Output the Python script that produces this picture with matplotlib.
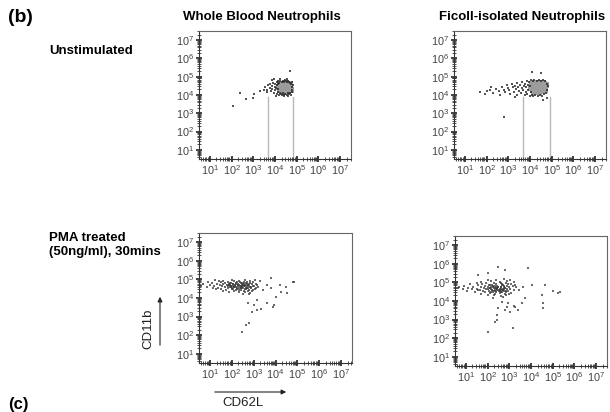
import numpy as np
import matplotlib
matplotlib.use("Agg")
import matplotlib.pyplot as plt
from matplotlib.ticker import FixedLocator, LogLocator, NullFormatter

plt.rcParams['font.family'] = ['Liberation Sans', 'DejaVu Sans']
plt.rcParams['mathtext.fontset'] = 'custom'
plt.rcParams['mathtext.rm'] = 'Liberation Sans'
plt.rcParams['mathtext.it'] = 'Liberation Sans'

# ---- data (log10 values) ----
decades = [1, 2, 3, 4, 5, 6, 7]
tick_labels = [r'$10^{%d}$' % d for d in decades]
col_titles = ['Whole Blood Neutrophils', 'Ficoll-isolated Neutrophils']
row_titles = ['Unstimulated', 'PMA treated\n(50ng/ml), 30mins']

# top-left: whole blood, unstimulated
tl_core_x = [4.20, 4.28, 4.30, 4.35, 4.38, 4.42, 4.45, 4.48, 4.50, 4.55, 4.58, 4.60, 4.65,
             4.68, 4.70, 4.25, 4.33, 4.52, 4.62, 4.40, 4.58, 4.72, 4.22, 4.47, 4.36]
tl_core_y = [4.45, 4.55, 4.35, 4.25, 4.48, 4.60, 4.38, 4.22, 4.50, 4.32, 4.58, 4.42, 4.28,
             4.52, 4.38, 4.30, 4.62, 4.65, 4.62, 4.18, 4.20, 4.25, 4.58, 4.45, 4.40]
tl_dot_x = [3.55, 3.62, 3.70, 3.75, 3.78, 3.82, 3.85, 3.88, 3.92, 3.95, 3.98, 4.00, 4.02, 4.05,
            4.07, 4.08, 4.10, 4.12, 4.13, 4.15, 4.16, 4.18, 4.20, 4.22, 4.25, 4.27, 4.30, 4.33,
            4.35, 4.38, 4.40, 4.43, 4.45, 4.48, 4.50, 4.53, 4.55, 4.58, 4.60, 4.63, 4.65, 4.68,
            4.70, 4.72, 4.74, 4.76, 4.78, 4.80, 4.82, 4.78, 3.95, 4.05, 3.65, 3.50, 4.42, 4.60,
            3.88, 4.25, 4.55, 2.39, 2.67, 2.99, 2.07, 4.69, 3.05, 3.30]
tl_dot_y = [4.45, 4.30, 4.55, 4.40, 4.62, 4.20, 4.50, 4.35, 4.68, 4.10, 4.45, 4.58, 4.25, 4.38,
            4.72, 4.05, 4.52, 4.15, 4.62, 4.32, 4.78, 4.00, 4.68, 4.12, 4.75, 4.08, 4.70, 4.02,
            4.78, 4.10, 4.72, 3.98, 4.80, 4.08, 4.74, 4.02, 4.70, 4.10, 4.76, 4.05, 4.70, 4.12,
            4.66, 4.02, 4.60, 4.18, 4.45, 4.30, 4.55, 4.72, 4.85, 3.95, 4.15, 4.25, 3.92, 3.95,
            4.80, 4.85, 4.85, 4.11, 3.78, 3.83, 3.40, 5.31, 4.05, 4.20]

# top-right: ficoll, unstimulated
tr_core_x = [4.05, 4.12, 4.15, 4.22, 4.25, 4.30, 4.32, 4.38, 4.40, 4.45, 4.48, 4.52, 4.55,
             4.60, 4.63, 4.68, 4.70, 4.18, 4.35, 4.58, 4.10, 4.28, 4.50, 4.72, 4.42]
tr_core_y = [4.40, 4.28, 4.52, 4.35, 4.60, 4.20, 4.45, 4.55, 4.30, 4.42, 4.62, 4.22, 4.50,
             4.35, 4.58, 4.42, 4.25, 4.18, 4.65, 4.68, 4.60, 4.40, 4.38, 4.55, 4.15]
tr_dot_x = [1.70, 1.95, 2.15, 2.30, 2.45, 2.55, 2.62, 2.70, 2.78, 2.85, 2.92, 2.98, 3.05, 3.10,
            3.15, 3.20, 3.25, 3.30, 3.35, 3.38, 3.42, 3.45, 3.50, 3.55, 3.58, 3.62, 3.65, 3.68,
            3.72, 3.75, 3.78, 3.80, 3.83, 3.86, 3.88, 3.90, 3.93, 3.96, 3.98, 4.00, 4.03, 4.06,
            4.08, 4.12, 4.16, 4.20, 4.25, 4.30, 4.35, 4.40, 4.45, 4.50, 4.55, 4.60, 4.65, 4.70,
            4.75, 4.78, 4.80, 4.82, 4.76, 2.80, 4.10, 4.50, 3.30, 2.20, 2.00, 4.60]
tr_dot_y = [4.16, 4.05, 4.28, 4.12, 4.35, 4.20, 4.02, 4.45, 4.30, 4.15, 4.52, 4.38, 4.25, 4.08,
            4.60, 4.42, 4.18, 4.50, 4.32, 4.02, 4.65, 4.42, 4.22, 4.55, 4.10, 4.38, 4.72, 4.28,
            4.50, 3.98, 4.62, 4.18, 4.42, 4.78, 4.05, 4.55, 4.30, 4.70, 3.95, 4.48, 4.15, 4.82,
            4.00, 4.75, 3.92, 4.80, 3.98, 4.78, 3.95, 4.82, 4.02, 4.78, 3.96, 4.80, 4.05, 4.75,
            4.12, 4.62, 4.30, 4.48, 3.85, 2.80, 5.25, 5.20, 3.90, 4.45, 4.20, 3.75]

# bottom-left: whole blood, PMA
bl_dot_x = [1.22, 1.58, 2.03, 2.31, 2.62, 2.84, 3.07,
            0.92, 1.41, 1.83, 2.12, 2.38, 2.71, 2.96,
            1.08, 1.52, 1.69, 1.97, 2.18, 2.47, 2.58, 2.82, 3.12,
            0.68, 1.31, 1.62, 1.86, 2.04, 2.29, 2.52, 2.69, 2.91, 3.16,
            1.02, 1.44, 1.77, 1.94, 2.16, 2.36, 2.56, 2.74, 2.97,
            0.58, 1.19, 1.56, 1.81, 2.01, 2.21, 2.41, 2.61, 2.79, 3.01, 3.22,
            0.86, 1.36, 1.71, 1.91, 2.09, 2.31, 2.49, 2.71, 2.87, 3.11,
            1.12, 1.49, 1.84, 2.06, 2.26, 2.44, 2.66, 2.86, 3.04,
            1.29, 1.74, 2.02, 2.19, 2.41, 2.59, 2.81, 2.99,
            1.62, 2.11, 2.34, 2.56, 2.76, 2.94,
            1.88, 2.32, 2.61, 2.84,
            2.52, 2.79,
            1.85, 1.95, 2.05, 2.15, 2.25, 2.35, 2.45, 2.55, 2.65, 2.75, 2.85,
            1.90, 2.00, 2.10, 2.20, 2.30, 2.40, 2.50, 2.60, 2.70, 2.80,
            1.98, 2.12, 2.28, 2.42, 2.58, 2.72,
            2.22, 2.48, 2.66,
            3.80, 4.49, 4.86, 4.26, 4.03, 3.62, 3.16, 3.02, 3.16, 2.93, 3.34, 3.94,
            2.79, 2.66, 2.47, 4.54, 3.80, 3.62, 4.81, 3.89, 2.75, 3.45, 4.20, 3.30]
bl_dot_y = [4.96, 4.93, 4.98, 4.94, 4.97, 4.92, 4.95,
            4.87, 4.89, 4.86, 4.90, 4.85, 4.88, 4.86,
            4.81, 4.84, 4.80, 4.83, 4.79, 4.82, 4.84, 4.80, 4.78,
            4.75, 4.77, 4.74, 4.78, 4.73, 4.76, 4.74, 4.77, 4.75, 4.72,
            4.70, 4.68, 4.72, 4.69, 4.71, 4.67, 4.70, 4.68, 4.66,
            4.64, 4.62, 4.66, 4.63, 4.65, 4.61, 4.64, 4.62, 4.66, 4.63, 4.60,
            4.58, 4.56, 4.59, 4.57, 4.60, 4.55, 4.58, 4.56, 4.59, 4.54,
            4.52, 4.50, 4.53, 4.51, 4.49, 4.53, 4.50, 4.52, 4.48,
            4.46, 4.44, 4.47, 4.45, 4.43, 4.46, 4.44, 4.42,
            4.40, 4.38, 4.41, 4.39, 4.37, 4.40,
            4.32, 4.30, 4.33, 4.29,
            4.22, 4.20,
            4.72, 4.60, 4.78, 4.66, 4.56, 4.70, 4.62, 4.76, 4.52, 4.68, 4.58,
            4.80, 4.54, 4.66, 4.74, 4.62, 4.80, 4.56, 4.70, 4.62, 4.74,
            4.66, 4.58, 4.68, 4.52, 4.62, 4.56,
            4.84, 4.72, 4.80,
            5.07, 4.59, 4.85, 4.32, 4.05, 3.73, 3.89, 3.62, 3.35, 3.24, 3.40, 3.62,
            2.65, 2.54, 2.17, 4.26, 4.53, 4.69, 4.85, 3.51, 3.73, 4.45, 4.70, 4.90]

# bottom-right: ficoll, PMA
br_dot_x = [2.00, 2.40, 2.75, 3.05,
            1.70, 2.15, 2.55, 2.90, 3.20,
            1.50, 1.95, 2.30, 2.60, 2.85, 3.10,
            1.20, 1.75, 2.10, 2.40, 2.65, 2.95, 3.25,
            0.90, 1.55, 1.90, 2.20, 2.45, 2.70, 2.90, 3.15,
            0.70, 1.35, 1.70, 2.00, 2.25, 2.50, 2.75, 3.00, 3.30,
            0.64, 1.10, 1.50, 1.85, 2.10, 2.35, 2.60, 2.80, 3.05,
            0.85, 1.30, 1.65, 1.95, 2.20, 2.45, 2.65, 2.90, 3.20,
            1.05, 1.55, 1.80, 2.05, 2.30, 2.55, 2.75, 2.95,
            1.40, 1.90, 2.15, 2.40, 2.60, 2.85, 3.10,
            1.70, 2.10, 2.35, 2.55, 2.80, 3.00,
            2.00, 2.30, 2.60, 2.85,
            2.25, 2.70,
            2.12, 2.22, 2.32, 2.42, 2.52, 2.62, 2.72, 2.82, 2.02, 2.17,
            2.27, 2.37, 2.47, 2.57, 2.67, 2.77, 2.87, 2.07, 2.35, 2.55,
            2.15, 2.45, 2.65, 2.25, 2.50, 2.75, 2.40, 2.60, 2.30, 2.70,
            2.02, 2.48, 3.86, 2.80, 1.56, 3.63, 4.05, 4.65, 5.02, 5.34, 4.51, 3.73,
            3.59, 4.55, 4.55, 2.48, 2.80, 3.03, 3.26, 3.40, 2.44, 2.34, 2.02, 3.17,
            2.67, 2.94, 5.25, 2.44, 3.45, 3.20, 2.90]
br_dot_y = [5.15, 5.13, 5.17, 5.12,
            5.05, 5.07, 5.03, 5.06, 5.04,
            4.97, 4.99, 4.95, 4.98, 4.96, 4.94,
            4.90, 4.92, 4.88, 4.91, 4.89, 4.92, 4.87,
            4.83, 4.85, 4.81, 4.84, 4.82, 4.85, 4.80, 4.83,
            4.76, 4.78, 4.74, 4.77, 4.75, 4.78, 4.73, 4.76, 4.74,
            4.69, 4.71, 4.67, 4.70, 4.68, 4.71, 4.66, 4.69, 4.67,
            4.62, 4.64, 4.60, 4.63, 4.61, 4.64, 4.59, 4.62, 4.60,
            4.55, 4.57, 4.53, 4.56, 4.54, 4.57, 4.52, 4.55,
            4.48, 4.50, 4.46, 4.49, 4.47, 4.50, 4.45,
            4.40, 4.42, 4.38, 4.41, 4.39, 4.37,
            4.30, 4.32, 4.28, 4.31,
            4.18, 4.20,
            4.72, 4.58, 4.80, 4.66, 4.52, 4.74, 4.60, 4.70, 4.62, 4.78,
            4.50, 4.68, 4.76, 4.56, 4.84, 4.64, 4.54, 4.86, 4.60, 4.66,
            4.64, 4.70, 4.48, 4.80, 4.58, 4.82, 4.52, 4.74, 4.70, 4.64,
            5.50, 5.82, 5.77, 5.66, 5.39, 4.75, 4.85, 4.85, 4.53, 4.48, 4.32, 4.16,
            3.89, 3.89, 3.62, 3.62, 3.51, 3.40, 3.67, 3.51, 3.24, 2.87, 2.33, 2.54,
            3.94, 3.89, 4.42, 2.97, 4.60, 3.75, 3.70]

# gate lines (log10 x positions and top)
gate_x_wb = [3.68, 4.83]
gate_x_fi = [3.68, 4.92]
gate_top = 3.89

# ---- figure ----
W, H = 610, 412
fig = plt.figure(figsize=(W / 100, H / 100), dpi=100)

def ax_rect(left, top, w, h):
    return [left / W, 1 - (top + h) / H, w / W, h / H]

def style(ax):
    ax.set_xscale('log')
    ax.set_yscale('log')
    ax.set_xlim(10 ** 0.5, 10 ** 7.5)
    ax.set_ylim(10 ** 0.5, 10 ** 7.5)
    for a in (ax.xaxis, ax.yaxis):
        a.set_major_locator(FixedLocator([10.0 ** d for d in decades]))
        a.set_minor_locator(LogLocator(base=10, subs=np.arange(2, 10), numticks=60))
        a.set_minor_formatter(NullFormatter())
    ax.set_xticklabels(tick_labels)
    ax.set_yticklabels(tick_labels)
    ax.tick_params(which='major', direction='inout', length=4.5, width=1.2,
                   labelsize=7.8, colors='#222222', labelcolor='#444444', pad=1.0)
    ax.tick_params(which='minor', direction='inout', length=2.4, width=0.6, colors='#333333')
    ax.tick_params(top=False, right=False)
    for s in ('top', 'right'):
        ax.spines[s].set_color('#666666')
        ax.spines[s].set_linewidth(0.8)
    for s in ('left', 'bottom'):
        ax.spines[s].set_color('#333333')
        ax.spines[s].set_linewidth(0.8)

def gates(ax, gx):
    for g in gx:
        ax.plot([10 ** g, 10 ** g], [10 ** 0.5, 10 ** gate_top], color='#b8b8b8', lw=1.0, zorder=1)

def pts(ax, lx, ly, color, s, alpha=1.0):
    ax.scatter(10 ** np.array(lx), 10 ** np.array(ly), s=s, c=color, marker='s',
               linewidths=0, alpha=alpha, zorder=3)

ax_tl = fig.add_axes(ax_rect(199, 31, 152, 128))
style(ax_tl)
gates(ax_tl, gate_x_wb)
pts(ax_tl, tl_core_x, tl_core_y, '#9c9c9c', 16)
pts(ax_tl, tl_dot_x, tl_dot_y, '#2a2a2a', 2.0, 0.8)

ax_tr = fig.add_axes(ax_rect(454, 31, 152, 128))
style(ax_tr)
gates(ax_tr, gate_x_fi)
pts(ax_tr, tr_core_x, tr_core_y, '#9c9c9c', 16)
pts(ax_tr, tr_dot_x, tr_dot_y, '#2a2a2a', 2.0, 0.8)

ax_bl = fig.add_axes(ax_rect(199, 233, 153, 130))
style(ax_bl)
pts(ax_bl, bl_dot_x, bl_dot_y, '#3a3a3a', 2.2, 0.75)

ax_br = fig.add_axes(ax_rect(455, 236, 152, 130))
style(ax_br)
pts(ax_br, br_dot_x, br_dot_y, '#3a3a3a', 2.2, 0.75)

# titles and labels
fig.text(8 / W, 1 - 17 / H, '(b)', fontsize=14, fontweight='bold', va='center', ha='left')
fig.text(262 / W, 1 - 17 / H, col_titles[0], fontsize=9.5, fontweight='bold', va='center', ha='center')
fig.text(522 / W, 1 - 17 / H, col_titles[1], fontsize=9.5, fontweight='bold', va='center', ha='center')
fig.text(49 / W, 1 - 51 / H, row_titles[0], fontsize=9.5, fontweight='bold', va='center', ha='left')
fig.text(49 / W, 1 - 245 / H, row_titles[1], fontsize=9.5, fontweight='bold', va='center', ha='left',
         linespacing=1.25)
fig.text(8 / W, 1 - 404 / H, '(c)', fontsize=12, fontweight='bold', va='center', ha='left')

# axis name arrows
fig.text(148 / W, 1 - 329 / H, 'CD11b', fontsize=9.5, rotation=90, va='center', ha='center', color='#222222')
fig.add_artist(matplotlib.patches.FancyArrowPatch((160 / W, 1 - 348 / H), (160 / W, 1 - 294 / H),
               transform=fig.transFigure, arrowstyle='-|>', mutation_scale=7, lw=0.8, color='#222222'))
fig.text(243 / W, 1 - 403 / H, 'CD62L', fontsize=9.5, va='center', ha='center', color='#222222')
fig.add_artist(matplotlib.patches.FancyArrowPatch((212 / W, 1 - 392 / H), (289 / W, 1 - 392 / H),
               transform=fig.transFigure, arrowstyle='-|>', mutation_scale=7, lw=0.8, color='#222222'))

fig.savefig('out.png', dpi=100)
